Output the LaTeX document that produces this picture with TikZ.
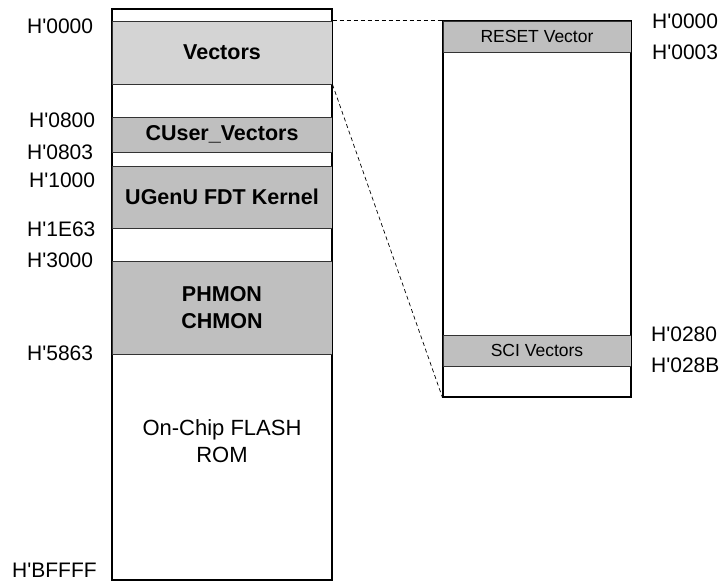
\documentclass[tikz,border=0pt]{standalone}
\usepackage{fontspec}
\setmainfont[Ligatures=TeXOff]{Liberation Sans}
\begin{document}
\begin{tikzpicture}[x=1pt,y=-1pt,
  big/.style={font=\fontsize{22}{27}\selectfont},
  bigbold/.style={font=\bfseries\fontsize{21.5}{26.5}\selectfont},
  small/.style={font=\fontsize{17.5}{21}\selectfont},
  label/.style={font=\fontsize{21}{24}\selectfont},
  column/.style={draw=black, line width=1.1pt, fill=white, inner sep=0pt, minimum width=#1},
  region/.style={draw=black!80, line width=1pt, fill=black!25, inner sep=0pt, minimum width=#1},
  addr/.style={label, inner sep=0pt, anchor=west},
  link/.style={draw=black, line width=0.7pt, dash pattern=on 4pt off 3pt}]
\useasboundingbox (0,0) rectangle (723,584);

% ---- left map: whole flash area ----
\node[column=220pt, minimum height=571pt] (flash) at (222,294.5) {};
\node[region=220pt, minimum height=63pt, fill=black!17, bigbold] (vec) at (222,52.5) {Vectors};
\node[region=220pt, minimum height=35pt, bigbold] (cuser) at (222,134.5) {CUser\_Vectors};
\node[region=220pt, minimum height=62pt, bigbold] (kernel) at (222,197) {UGenU FDT Kernel};
\node[region=220pt, minimum height=93pt, bigbold, align=center] (mon) at (222,307.5) {PHMON\\CHMON};
\draw[draw=black!80, line width=1pt] (flash.west |- 0,166) -- (flash.east |- 0,166);
\node[big, align=center, inner sep=0pt] (rom) at (222,441.5) {On-Chip FLASH\\ROM};

% address labels, left
\node[addr] (a0000) at (27,26) {H'0000};
\node[addr] (a0800) at (29,120) {H'0800};
\node[addr] (a0803) at (27,152) {H'0803};
\node[addr] (a1000) at (29,180) {H'1000};
\node[addr] (a1E63) at (27,229) {H'1E63};
\node[addr] (a3000) at (27,260) {H'3000};
\node[addr] (a5863) at (27,353) {H'5863};
\node[addr] (aBFFFF) at (12,570) {H'BFFFF};

% ---- right map: vector table in detail ----
\node[column=188pt, minimum height=376pt] (vtab) at (537,209) {};
\node[region=188pt, minimum height=31pt, small] (reset) at (537,36.5) {RESET Vector};
\node[region=188pt, minimum height=31pt, small] (sci) at (537,350.5) {SCI Vectors};
\draw[draw=black, line width=1.1pt] (vtab.north west) rectangle (vtab.south east);

% address labels, right
\node[addr] (b0000) at (652,21) {H'0000};
\node[addr] (b0003) at (652,52) {H'0003};
\node[addr] (b0280) at (651,334) {H'0280};
\node[addr] (b028B) at (651,365) {H'028B};

% outer frame of the flash area on top
\draw[draw=black, line width=1.1pt] (flash.north west) rectangle (flash.south east);

% ---- zoom lines ----
\draw[link] (vec.north east) -- (reset.north west);
\draw[link] (vec.south east) -- (vtab.south west);
\end{tikzpicture}
\end{document}
